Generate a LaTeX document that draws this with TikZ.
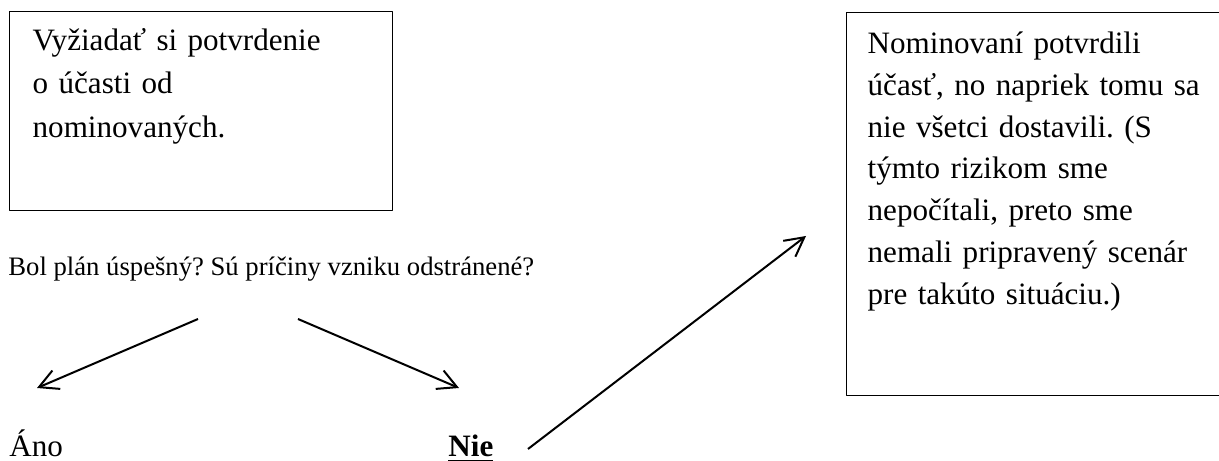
\documentclass[tikz,border=0pt]{standalone}
\usepackage{fontspec}
\setmainfont{Liberation Serif}
\frenchspacing
\usetikzlibrary{arrows.meta}

\begin{document}
\begin{tikzpicture}[
        x=0.45pt, y=-0.45pt,
        line join=round,
        % 文本框与箭头样式
        box/.style={draw, line width=0.6pt, anchor=north west, align=left, inner ysep=0pt},
        lbl/.style={anchor=base west, inner sep=0pt},
        arr/.style={-{Straight Barb[length=8.5pt, width=9pt]}, line width=0.9pt},
    ]
    
    % 画布范围
    \clip (0,0) rectangle (1219,461);
    
    % ---- 两个文本框 ----
    \node[box, inner xsep=10.35pt, text width=151.6pt, text height=17.5pt, text depth=72pt,
        font=\fontsize{14}{19.5}\selectfont] (ziadost) at (9,11)
        {Vyžiadať si potvrdenie\\o účasti od\\nominovaných.};
    \node[box, inner xsep=9.45pt, text width=156pt, text height=18.4pt, text depth=153.9pt,
        font=\fontsize{14}{18.8}\selectfont] (riziko) at (846,12)
        {Nominovaní potvrdili\\účasť, no napriek tomu sa\\nie všetci dostavili. (S\\týmto rizikom sme\\nepočítali, preto sme\\nemali pripravený scenár\\pre takúto situáciu.)};
    
    % ---- otázka a odpovede ----
    \node[lbl, font=\fontsize{12}{14}\selectfont] (plan) at (8,276)
        {Bol plán úspešný? Sú príčiny vzniku odstránené?};
    \node[lbl, font=\fontsize{14}{17}\selectfont] (ano) at (9,457) {Áno};
    \node[lbl, font=\fontsize{14}{17}\selectfont\bfseries] (nie) at (448,457) {\underline{Nie}};
    
    % 箭头端点
    \coordinate (plan-l) at (198,319);
    \coordinate (plan-r) at (298,319);
    \coordinate (ano-in) at (37,388);
    \coordinate (nie-in) at (459,388);
    \coordinate (nie-out) at (528,449);
    \coordinate (riziko-in) at (806,236);
    
    % ---- 箭头 ----
    \draw[arr] (plan-l) -- (ano-in);
    \draw[arr] (plan-r) -- (nie-in);
    \draw[arr] (nie-out) -- (riziko-in);
    
\end{tikzpicture}
\end{document}
